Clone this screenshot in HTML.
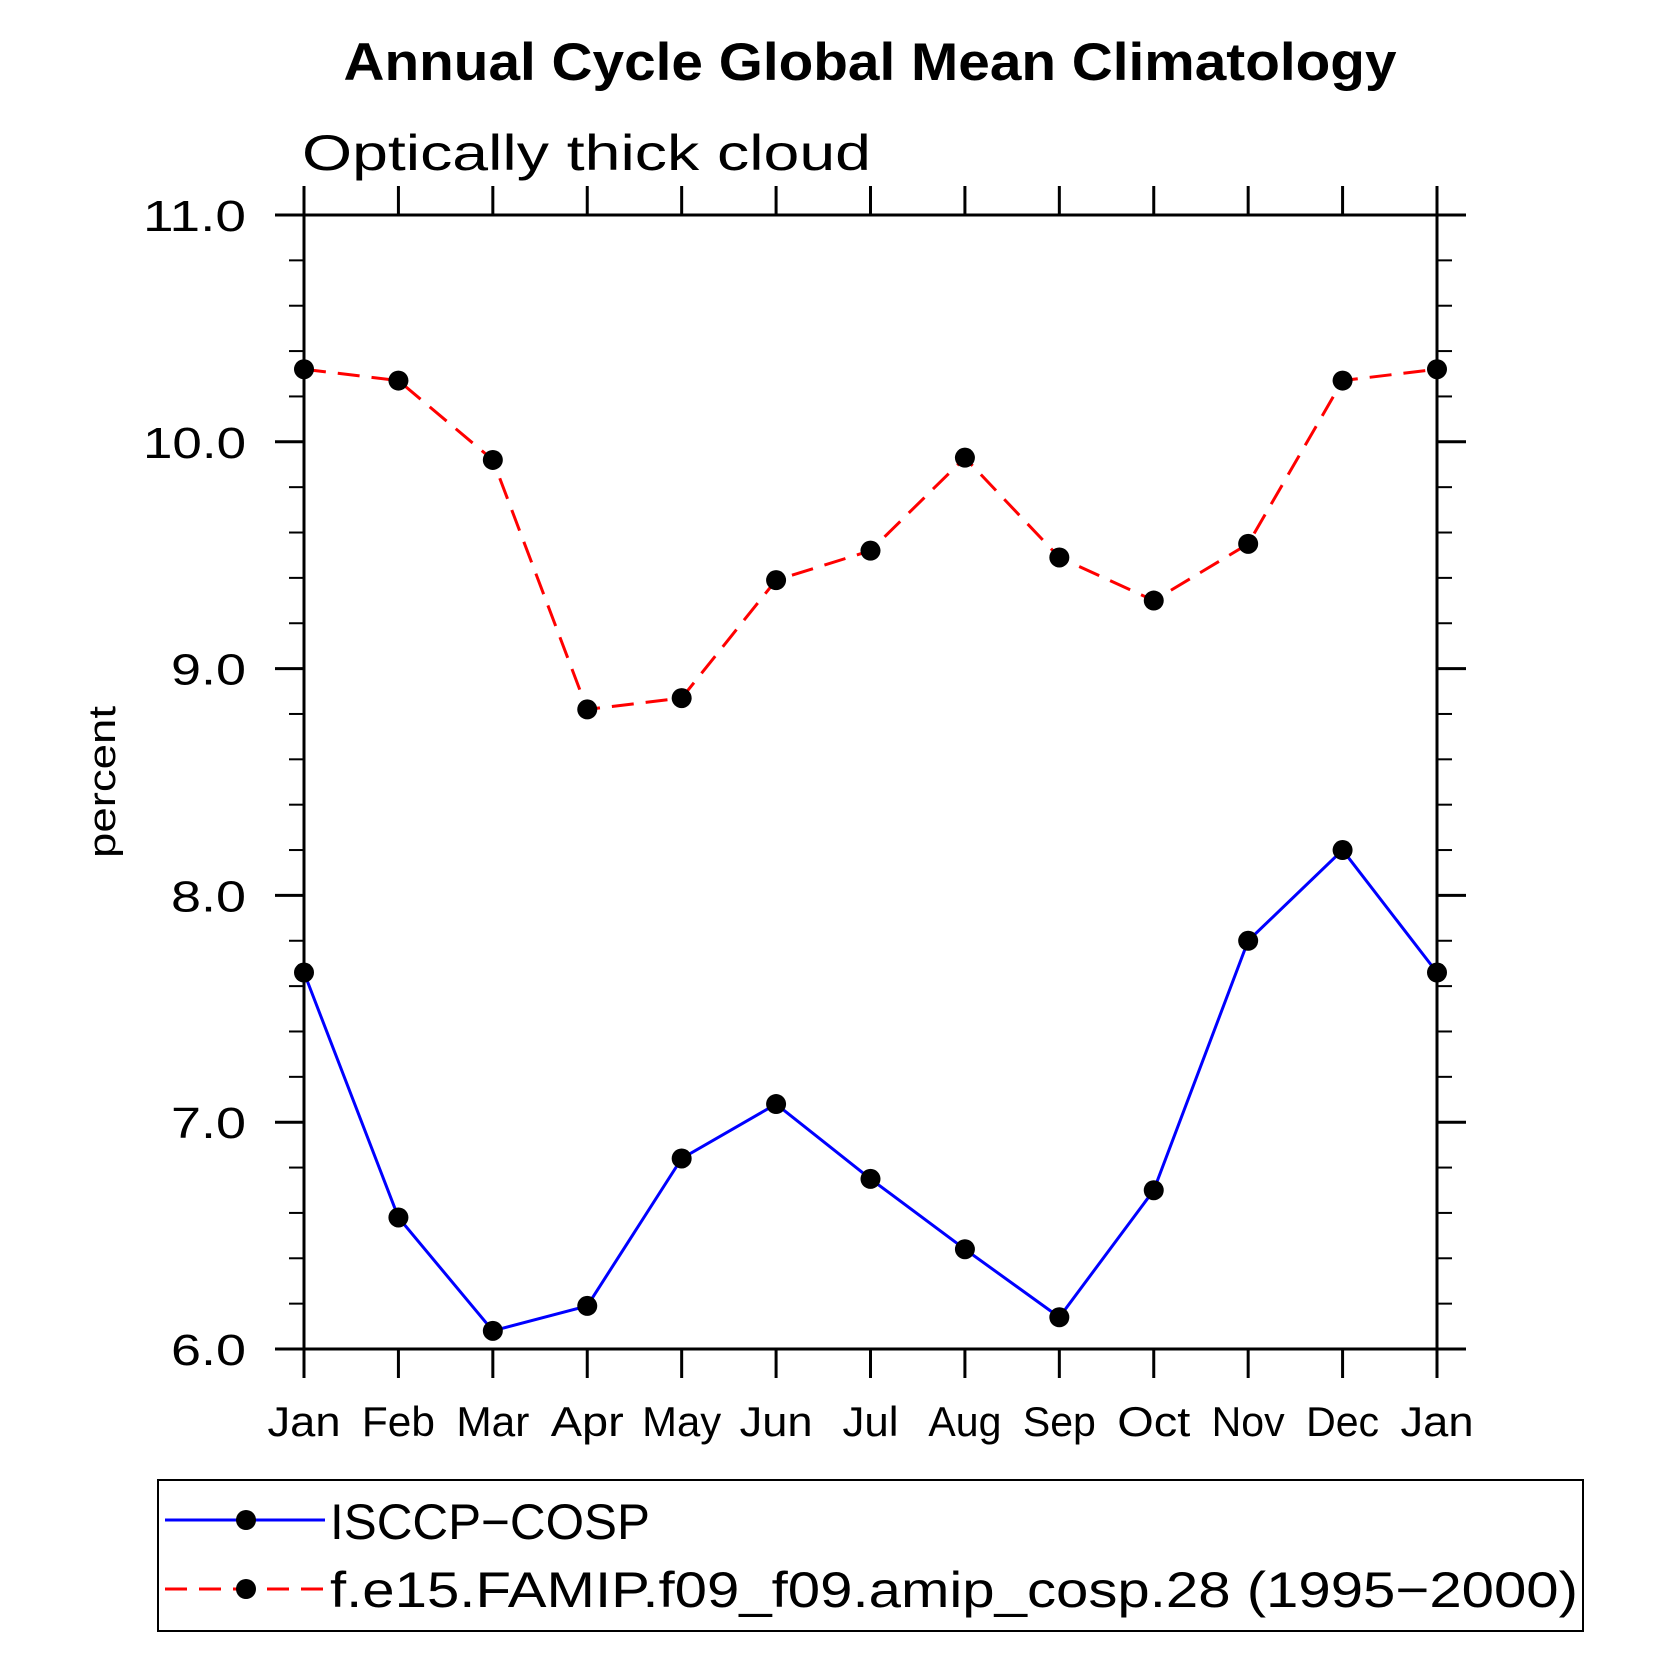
<!DOCTYPE html>
<html><head><meta charset="utf-8"><style>html,body{margin:0;padding:0;background:#fff}svg{display:block}</style></head>
<body>
<svg id="chart" width="1669" height="1669" viewBox="0 0 1669 1669" xmlns="http://www.w3.org/2000/svg" font-family="'Liberation Sans', sans-serif">
<text x="870" y="80" text-anchor="middle" font-size="53" font-weight="bold" textLength="1053" lengthAdjust="spacingAndGlyphs">Annual Cycle Global Mean Climatology</text>
<text x="302" y="170" font-size="50" font-weight="300" textLength="569" lengthAdjust="spacingAndGlyphs">Optically thick cloud</text>
<text transform="translate(115,782) rotate(-90)" text-anchor="middle" font-size="38" textLength="152" lengthAdjust="spacingAndGlyphs">percent</text>
<g id="axes"></g>
<g id="series"></g>
<rect x="158" y="1480" width="1425" height="151" fill="none" stroke="#000" stroke-width="2"/>
<g>
<line x1="165" y1="1520" x2="325" y2="1520" stroke="#0000ff" stroke-width="3"/>
<circle cx="246" cy="1520" r="10" fill="#000"/>
<text x="330" y="1539" font-size="50" font-weight="300" textLength="320" lengthAdjust="spacingAndGlyphs">ISCCP−COSP</text>
</g>
<g>
<line x1="165" y1="1589" x2="325" y2="1589" stroke="#ff0000" stroke-width="3" stroke-dasharray="22,12"/>
<circle cx="246" cy="1589" r="10" fill="#000"/>
<text x="330" y="1607" font-size="50" font-weight="300" textLength="1248" lengthAdjust="spacingAndGlyphs">f.e15.FAMIP.f09_f09.amip_cosp.28 (1995−2000)</text>
</g>
</svg>
<script>
const months = ["Jan","Feb","Mar","Apr","May","Jun","Jul","Aug","Sep","Oct","Nov","Dec","Jan"];
const isccpValues = [7.66,6.58,6.08,6.19,6.84,7.08,6.75,6.44,6.14,6.70,7.80,8.20,7.66];
const modelValues = [10.32,10.27,9.92,8.82,8.87,9.39,9.52,9.93,9.49,9.30,9.55,10.27,10.32];
const yTickLabels = ["6.0","7.0","8.0","9.0","10.0","11.0"];
const yMin = 6, yMax = 11;

const NS = "http://www.w3.org/2000/svg";
const L = 304, R = 1437, T = 215, B = 1349;
const xs = i => L + (R - L) * i / (months.length - 1);
const ys = v => B - (B - T) * (v - yMin) / (yMax - yMin);
function mk(tag, attrs, parent) {
  const e = document.createElementNS(NS, tag);
  for (const k in attrs) e.setAttribute(k, attrs[k]);
  parent.appendChild(e);
  return e;
}
const axes = document.getElementById("axes");
const fr = mk("rect", {x:L, y:T, width:R-L, height:B-T, fill:"none", stroke:"#000", "stroke-width":3}, axes);


months.forEach((m, i) => {
  const x = xs(i);
  const t1 = mk("line", {x1:x, y1:T, x2:x, y2:T-29, stroke:"#000", "stroke-width":3}, axes);
  
  
  const t2 = mk("line", {x1:x, y1:B, x2:x, y2:B+29, stroke:"#000", "stroke-width":3}, axes);
  
  
  const w = m === "Jul" ? 56 : (m === "May" ? 79 : 73);
  const lb = mk("text", {x:x, y:1436, "text-anchor":"middle", "font-size":42, "font-weight":300, textLength:w, lengthAdjust:"spacingAndGlyphs"}, axes);
  lb.textContent = m;
  
  
});
for (let k = 0; k <= (yMax - yMin) * 5; k++) {
  const v = yMin + k * 0.2;
  const y = ys(v);
  const major = k % 5 === 0;
  const len = major ? 29 : 15;
  const a = mk("line", {x1:L-len, y1:y, x2:L, y2:y, stroke:"#000", "stroke-width":major?3:2}, axes);
  
  
  const b = mk("line", {x1:R, y1:y, x2:R+len, y2:y, stroke:"#000", "stroke-width":major?3:2}, axes);
  
  
}
yTickLabels.forEach((s, i) => {
  const w = s.length > 3 ? 103 : 75;
  const lb = mk("text", {x:246, y:ys(yMin + i) + 16, "text-anchor":"end", "font-size":44, "font-weight":300, textLength:w, lengthAdjust:"spacingAndGlyphs"}, axes);
  lb.textContent = s;
  
  
});
const series = document.getElementById("series");
function drawSeries(vals, color, dash, name) {
  const pts = vals.map((v, i) => xs(i) + "," + ys(v)).join(" ");
  const pl = mk("polyline", {points:pts, fill:"none", stroke:color, "stroke-width":3}, series);
  if (dash) pl.setAttribute("stroke-dasharray", dash);
  
  
  vals.forEach((v, i) => {
    const c = mk("circle", {cx:xs(i), cy:ys(v), r:10, fill:"#000"}, series);
    
    
  });
}
drawSeries(modelValues, "#ff0000", "22,12", "model");
drawSeries(isccpValues, "#0000ff", null, "isccp");
</script>
</body></html>
